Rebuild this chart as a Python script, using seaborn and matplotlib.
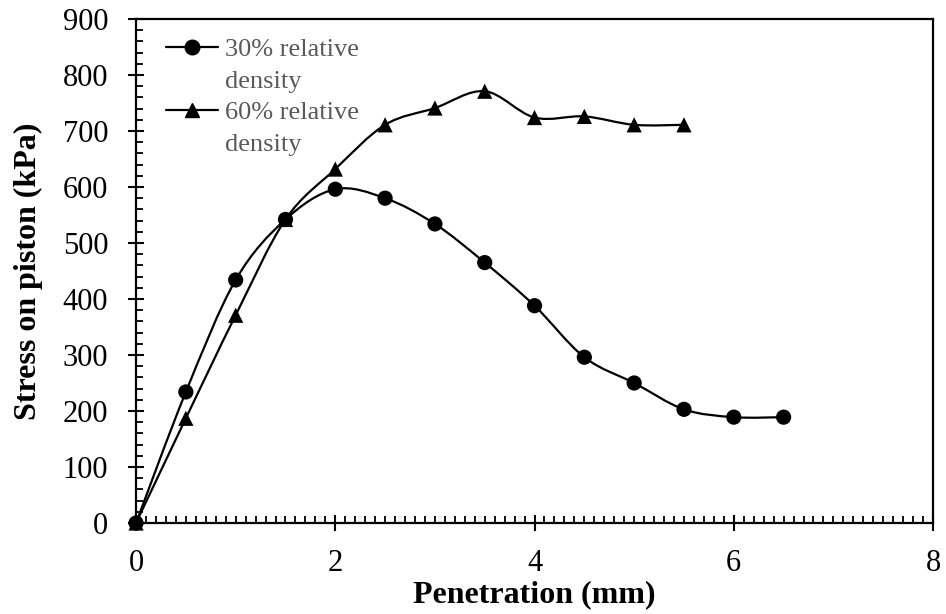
import numpy as np
import pandas as pd
import seaborn as sns
import matplotlib
matplotlib.use("Agg")
import matplotlib.pyplot as plt
from matplotlib.path import Path
from matplotlib.patches import PathPatch
from matplotlib.lines import Line2D
from matplotlib.ticker import MultipleLocator

# Data
pen_30 = [0, 0.5, 1, 1.5, 2, 2.5, 3, 3.5, 4, 4.5, 5, 5.5, 6, 6.5]
stress_30 = [0, 234, 434, 542, 596, 580, 534, 465, 388, 296, 250, 203, 189, 189]
pen_60 = [0, 0.5, 1, 1.5, 2, 2.5, 3, 3.5, 4, 4.5, 5, 5.5]
stress_60 = [0, 187, 371, 542, 632, 711, 741, 771, 724, 726, 711, 711]
series_names = ["30% relative density", "60% relative density"]
legend_lines = [["30% relative", "density"], ["60% relative", "density"]]
markers = ["o", "^"]

FONT = "Liberation Serif"


def smooth_path(x, y):
    """Excel-style smoothed line: cubic Bezier through every point."""
    pts = np.column_stack([x, y]).astype(float)
    n = len(pts)
    verts = [pts[0]]
    codes = [Path.MOVETO]
    for i in range(n - 1):
        p0 = pts[i - 1] if i > 0 else pts[i]
        p1 = pts[i]
        p2 = pts[i + 1]
        p3 = pts[i + 2] if i + 2 < n else pts[i + 1]
        c1 = p1 + (p2 - p0) / 6.0
        c2 = p2 - (p3 - p1) / 6.0
        verts += [c1, c2, p2]
        codes += [Path.CURVE4] * 3
    return Path(verts, codes)


sns.set_theme(style="white")
plt.rcParams["font.family"] = [FONT, "DejaVu Serif"]

fig = plt.figure(figsize=(9.46, 6.14), dpi=100)
ax = fig.add_axes([0.1438, 0.1482, 0.8425, 0.8209])

df = pd.concat([
    pd.DataFrame({"pen": pen_30, "stress": stress_30, "series": series_names[0]}),
    pd.DataFrame({"pen": pen_60, "stress": stress_60, "series": series_names[1]}),
])

for (xs, ys) in [(pen_30, stress_30), (pen_60, stress_60)]:
    ax.add_patch(PathPatch(smooth_path(xs, ys), facecolor="none",
                           edgecolor="black", lw=1.6, zorder=2))

sns.scatterplot(data=df, x="pen", y="stress", style="series",
                markers=dict(zip(series_names, markers)), color="black",
                s=120, edgecolor="black", linewidth=0, ax=ax,
                legend=False, zorder=3, clip_on=False)

ax.set_xlim(0, 8)
ax.set_ylim(0, 900)
ax.xaxis.set_major_locator(MultipleLocator(2))
ax.xaxis.set_minor_locator(MultipleLocator(0.1))
ax.yaxis.set_major_locator(MultipleLocator(100))
ax.yaxis.set_minor_locator(MultipleLocator(20))

ax.tick_params(which="major", direction="inout", length=12, width=1.5,
               color="black", labelsize=22, labelcolor="black")
ax.tick_params(axis="y", which="major", pad=14)
ax.tick_params(axis="x", which="major", pad=13)
ax.tick_params(which="minor", direction="in", length=5, width=1.3, color="black")
ax.tick_params(bottom=True, left=True, top=False, right=False, which="both")

for sp in ax.spines.values():
    sp.set_color("black")
    sp.set_linewidth(1.6)

ax.set_xlabel("Penetration (mm)", fontsize=23, fontweight="bold",
              color="black", labelpad=1)
ax.set_ylabel("Stress on piston (kPa)", fontsize=23, fontweight="bold",
              color="black", labelpad=14)
ax.grid(False)

# legend: marker sits beside the first line of each two-line label
handles, texts = [], []
for m, lines in zip(markers, legend_lines):
    handles.append(Line2D([], [], color="black", lw=1.6, marker=m, markersize=10.5))
    texts.append(lines[0])
    handles.append(Line2D([], [], color="none"))
    texts.append(lines[1])
leg = ax.legend(handles, texts, loc="upper left", frameon=False,
                bbox_to_anchor=(0.015, 1.0), fontsize=19, handlelength=1.95,
                handletextpad=0.25, labelspacing=0.31, borderaxespad=0.3)
for t in leg.get_texts():
    t.set_color("#595959")

fig.savefig("out.png", dpi=100)
